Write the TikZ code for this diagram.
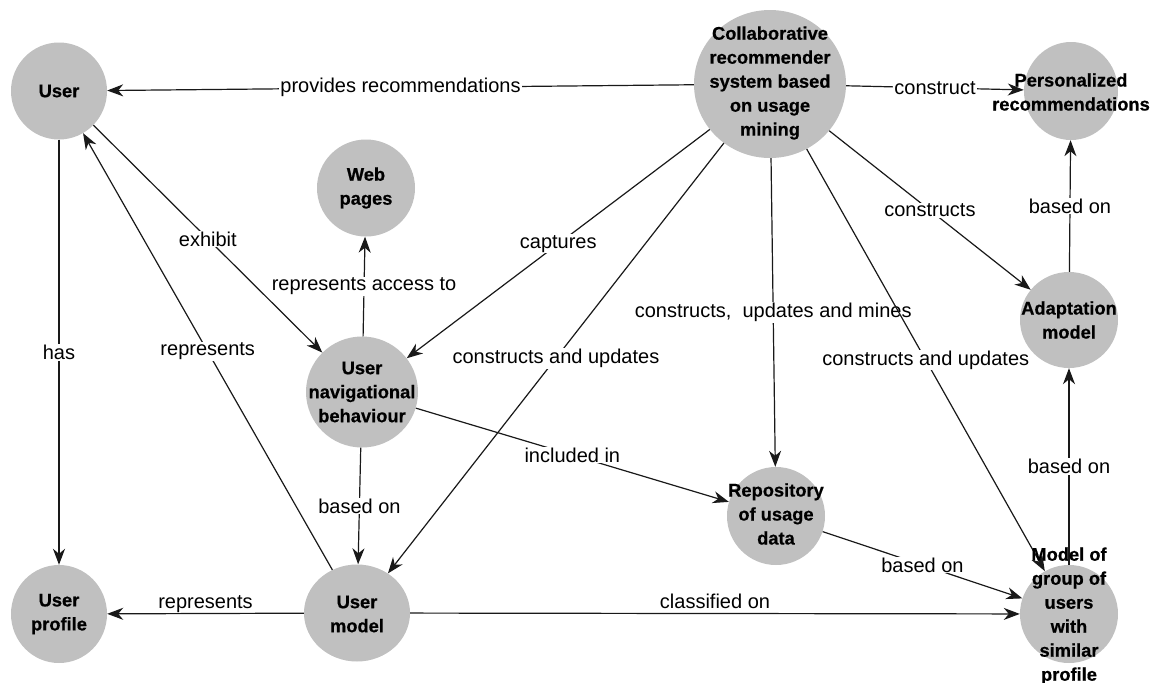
\documentclass[tikz,border=0pt]{standalone}
\usepackage{fontspec}
\setmainfont{Liberation Sans}
\newfontfamily\heavyfont{Liberation Sans}[BoldFeatures={FakeBold=0.6}]
\usetikzlibrary{arrows.meta,shapes.geometric}
\definecolor{ballgray}{RGB}{192,192,192}
\definecolor{linegray}{RGB}{25,25,25}
\begin{document}
\begin{tikzpicture}[x=1pt,y=-1pt,
  ball/.style={ellipse, fill=ballgray, draw=none, inner sep=0pt},
  nodetext/.style={font=\heavyfont\bfseries\fontsize{18.3}{24}\selectfont, align=center, text=black, inner sep=0pt},
  conn/.style={draw=linegray, line width=1.2pt, -{Stealth[length=16pt,width=12pt,inset=5pt]}},
  lab/.style={font=\fontsize{20}{22}\selectfont, fill=white, inner sep=1pt, text=black},
  toplab/.style={font=\fontsize{20}{22}\selectfont, inner sep=0pt, text=black, anchor=base, yshift=5pt},
]
\useasboundingbox (0,0) rectangle (1163,683);
\fill[white] (0,0) rectangle (1163,683);

% shapes
\node[ball, minimum width=96pt, minimum height=97pt] (user) at (59,91) {};
\node[ball, minimum width=152pt, minimum height=148pt] (crs) at (770,84) {};
\node[ball, minimum width=94pt, minimum height=98pt] (pers) at (1071,91) {};
\node[ball, minimum width=98pt, minimum height=97pt] (web) at (366,188) {};
\node[ball, minimum width=112pt, minimum height=111pt] (nav) at (362,392) {};
\node[ball, minimum width=98pt, minimum height=96pt] (adapt) at (1069,320) {};
\node[ball, minimum width=98pt, minimum height=98pt] (repo) at (776,516) {};
\node[ball, minimum width=96pt, minimum height=98pt] (prof) at (59,614) {};
\node[ball, minimum width=106pt, minimum height=97pt] (umod) at (357,613) {};
\node[ball, minimum width=98pt, minimum height=98pt] (group) at (1069,614) {};

% connectors
\draw[conn] (crs) -- node[lab] {provides recommendations} (user);
\draw[conn] (crs) -- node[lab] {construct} (pers);
\draw[conn] (user) -- node[lab] {exhibit} (nav);
\draw[conn] (umod) -- node[lab] {represents} (user);
\draw[conn] (user) -- node[lab] {has} (prof);
\draw[conn] (nav) -- node[lab] {represents access to} (web);
\draw[conn] (crs) -- node[lab] {captures} (nav);
\draw[conn] (crs) -- node[lab] {constructs and updates} (umod);
\draw[conn] (crs) -- node[lab] {constructs,~ updates and mines} (repo);
\draw[conn] (crs) -- node[lab] {constructs} (adapt);
\draw[conn] (crs) -- node[lab] {constructs and updates} (group);
\draw[conn] (adapt) -- node[lab] {based on} (pers);
\draw[conn] (group) -- node[lab] {based on} (adapt);
\draw[conn] (nav) -- node[lab] {included in} (repo);
\draw[conn] (nav) -- node[lab] {based on} (umod);
\draw[conn] (repo) -- node[lab] {based on} (group);
\draw[conn] (umod) -- node[toplab] {represents} (prof);
\draw[conn] (umod) -- node[toplab] {classified on} (group);

% node texts
\node[nodetext] (user-t) at (user) {User};
\node[nodetext] (crs-t) at (770,83) {Collaborative\\recommender\\system based\\on usage\\mining};
\node[nodetext] (pers-t) at (1071,92) {Personalized\\recommendations};
\node[nodetext] (web-t) at (web) {Web\\pages};
\node[nodetext] (nav-t) at (nav) {User\\navigational\\behaviour};
\node[nodetext] (adapt-t) at (adapt) {Adaptation\\model};
\node[nodetext] (repo-t) at (776,514) {Repository\\of usage\\data};
\node[nodetext] (prof-t) at (prof) {User\\profile};
\node[nodetext] (umod-t) at (357,614) {User\\model};
\node[nodetext] (group-t) at (1069,616) {Model of\\group of\\users\\with\\similar\\profile};
\end{tikzpicture}
\end{document}
